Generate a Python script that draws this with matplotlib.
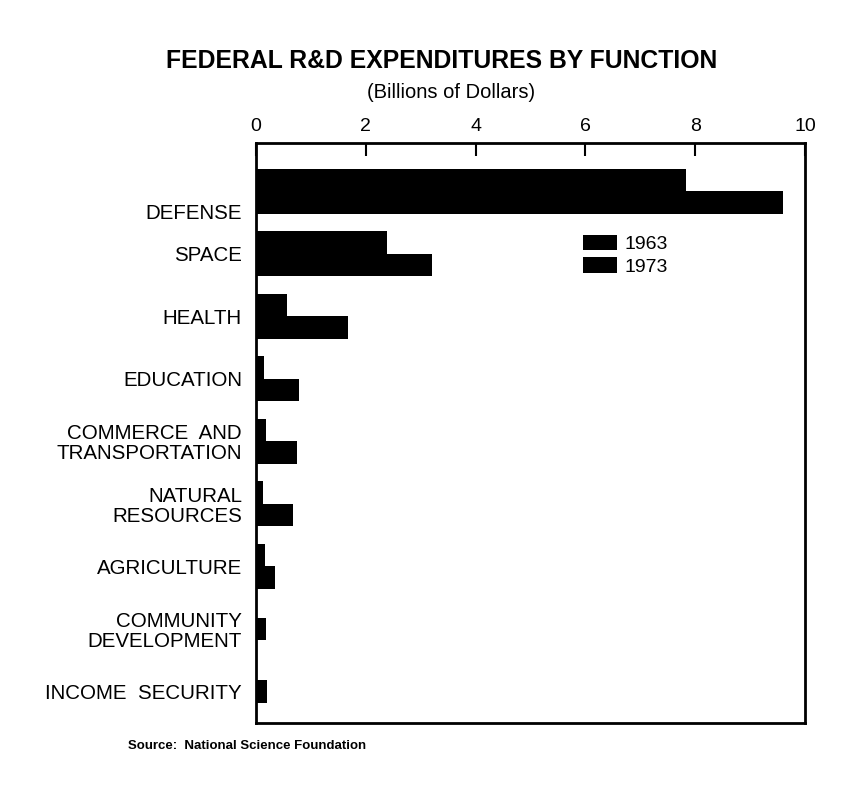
import numpy as np
import matplotlib.pyplot as plt
from matplotlib.transforms import ScaledTranslation

plt.rcParams['font.family'] = ['Liberation Sans', 'DejaVu Sans']

functions = ["DEFENSE", "SPACE", "HEALTH", "EDUCATION",
             "COMMERCE  AND\nTRANSPORTATION", "NATURAL\nRESOURCES",
             "AGRICULTURE", "COMMUNITY\nDEVELOPMENT", "INCOME  SECURITY"]
# billions of dollars; no 1963 figure for the last two functions
spend_1963 = np.array([7.84, 2.39, 0.56, 0.15, 0.18, 0.13, 0.16, np.nan, np.nan])
spend_1973 = np.array([9.60, 3.21, 1.68, 0.78, 0.75, 0.67, 0.35, 0.18, 0.20])
x_ticks = [0, 2, 4, 6, 8, 10]

fig = plt.figure(figsize=(8.59, 7.90), dpi=100)
ax = fig.add_axes([0.298, 0.085, 0.639, 0.734])

y = np.arange(len(functions))
h = 0.36
both = ~np.isnan(spend_1963)
ax.barh(y[both] - h / 2, spend_1963[both], height=h, color='black', label='1963')
ax.barh(y[both] + h / 2, spend_1973[both], height=h, color='black', label='1973')
# single bar for the functions that only have a 1973 value
ax.barh(y[~both], spend_1973[~both], height=h, color='black')

ax.set_xlim(0, 10)
ax.set_ylim(8.5, -0.77)
ax.set_xticks(x_ticks)
ax.xaxis.tick_top()
ax.tick_params(axis='x', direction='in', length=9, width=1.5, pad=6, labelsize=14)
ax.set_yticks(y)
ax.set_yticklabels(functions, fontsize=14.8, linespacing=1.05)
ax.tick_params(axis='y', length=0, pad=10)
for s in ax.spines.values():
    s.set_linewidth(2.0)

# DEFENSE label sits down by the 1973 bar
lab = ax.get_yticklabels()[0]
lab.set_transform(lab.get_transform() + ScaledTranslation(0, -0.20, fig.dpi_scale_trans))

ax.legend(loc='upper left', bbox_to_anchor=(0.596, 0.841), frameon=False,
          fontsize=14, handlelength=1.75, handleheight=0.82, handletextpad=0.4,
          labelspacing=0.2, borderpad=0, borderaxespad=0)

fig.text(0.514, 1 - 61 / 790, "FEDERAL R&D EXPENDITURES BY FUNCTION",
         ha='center', va='center', fontsize=17.8, weight='bold')
fig.text(0.525, 1 - 93 / 790, "(Billions of Dollars)",
         ha='center', va='center', fontsize=14.5)
fig.text(128 / 859, 1 - 746 / 790, "Source:  National Science Foundation",
         ha='left', va='center', fontsize=9.5, weight='bold')

fig.savefig("out.png", dpi=100)
